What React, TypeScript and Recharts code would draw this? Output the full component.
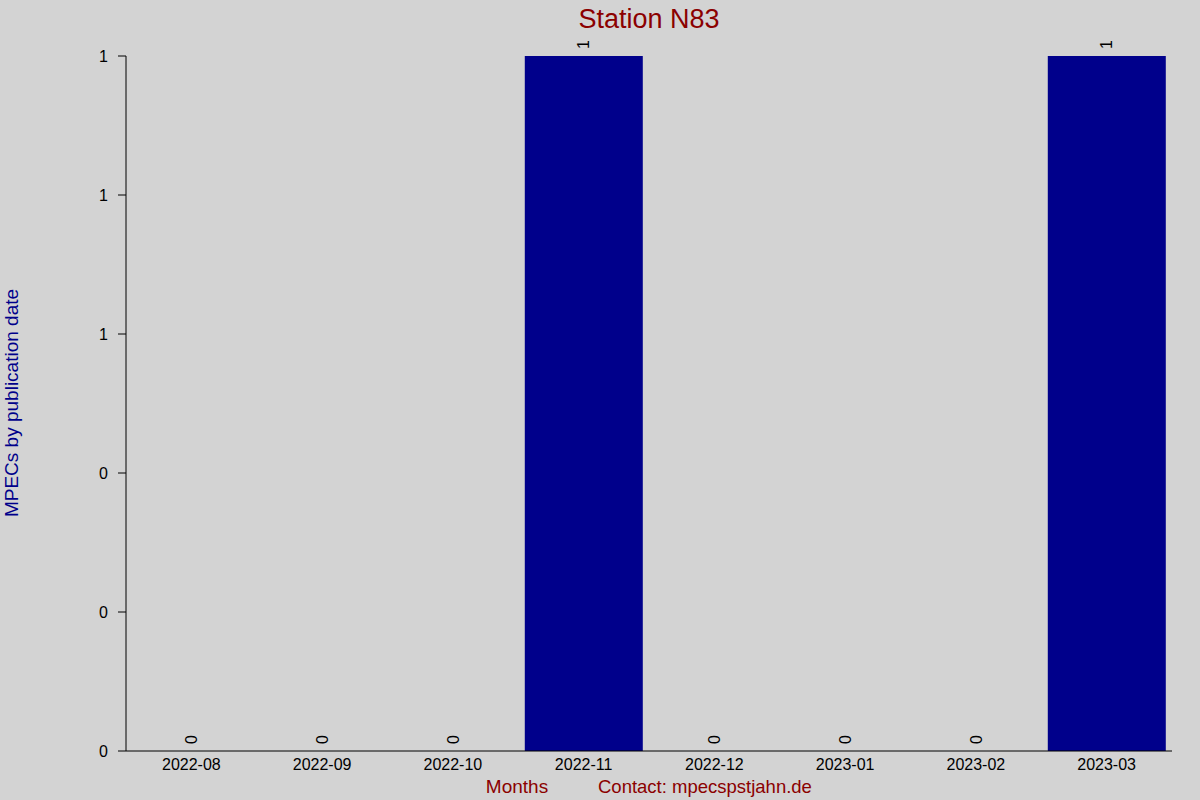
import { Bar, BarChart, XAxis, YAxis } from 'recharts'

const months = ['2022-08', '2022-09', '2022-10', '2022-11', '2022-12', '2023-01', '2023-02', '2023-03']
const mpecCounts = [0, 0, 0, 1, 0, 0, 0, 1]
const yTicks = [0, 0.2, 0.4, 0.6, 0.8, 1]

const data = months.map((month, i) => ({ month, count: mpecCounts[i] }))

const FONT = '"Liberation Sans", Arial, sans-serif'

// bar rect plus its rotated value label; zero-height bars still get their "0"
function BarWithLabel(props: any) {
  const { x, y, width, height, fill, payload } = props
  const bx = Number(x)
  const by = Number(y)
  const bw = Number(width)
  const bh = Number(height) || 0
  const cx = bx + bw / 2
  const ty = by - 7
  return (
    <g>
      {bh > 0 ? <rect x={bx} y={by} width={bw} height={bh} fill={fill} /> : null}
      <text
        x={cx}
        y={ty}
        transform={`rotate(-90 ${cx} ${ty})`}
        textAnchor="start"
        dominantBaseline="central"
        fontSize={16}
        fontFamily={FONT}
        fill="#000"
      >
        {payload?.count}
      </text>
    </g>
  )
}

export default function App() {
  return (
    <div style={{ position: 'absolute', left: 0, top: 0, width: 1200, height: 800, background: '#d3d3d3', fontFamily: FONT }}>
      <BarChart
        width={1200}
        height={800}
        data={data}
        margin={{ top: 56, right: 28, bottom: 0, left: 0 }}
        barCategoryGap="5%"
      >
        <XAxis
          dataKey="month"
          height={49}
          interval={0}
          tickLine={false}
          tickMargin={2}
          axisLine={{ stroke: '#000' }}
          tick={{ fill: '#000', fontSize: 16, fontFamily: FONT }}
        />
        <YAxis
          width={126}
          domain={[0, 1]}
          ticks={yTicks}
          tickFormatter={(v) => String(Math.round(Number(v)))}
          tickSize={8}
          tickMargin={10}
          axisLine={{ stroke: '#000' }}
          tickLine={{ stroke: '#000' }}
          tick={{ fill: '#000', fontSize: 16, fontFamily: FONT }}
        />
        <Bar dataKey="count" fill="#00008b" isAnimationActive={false} shape={BarWithLabel} />
      </BarChart>
      <svg width={1200} height={800} style={{ position: 'absolute', left: 0, top: 0, pointerEvents: 'none' }}>
        <text x={649} y={28} textAnchor="middle" fontSize={27} fill="#8b0000" fontFamily={FONT}>
          Station N83
        </text>
        <text
          x={18}
          y={403}
          transform="rotate(-90 18 403)"
          textAnchor="middle"
          fontSize={19}
          fill="#00008b"
          fontFamily={FONT}
        >
          MPECs by publication date
        </text>
        <text x={517} y={793} textAnchor="middle" fontSize={19} fill="#8b0000" fontFamily={FONT}>
          Months
        </text>
        <text x={598} y={793} textAnchor="start" fontSize={18.5} fill="#8b0000" fontFamily={FONT}>
          Contact: mpecspstjahn.de
        </text>
      </svg>
    </div>
  )
}
